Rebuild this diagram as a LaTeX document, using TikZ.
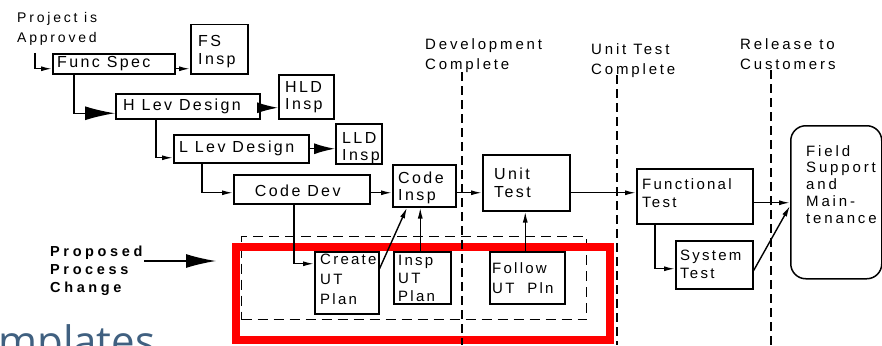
\documentclass[tikz,border=0pt]{standalone}
\usepackage{fontspec}
\setmainfont{Liberation Sans}
\newfontfamily\boxfont[LetterSpace=15]{Liberation Sans}
\newfontfamily\tagfont[LetterSpace=19]{Liberation Sans}
\newfontfamily\notefont[LetterSpace=20]{Liberation Sans}
\newfontfamily\changefont[LetterSpace=25]{Liberation Sans}
\newfontfamily\bannerfont{Open Sans}
\usetikzlibrary{arrows.meta}
\definecolor{banner}{RGB}{64,96,128}

\begin{document}
\begin{tikzpicture}[x=1pt,y=-1pt,
  box/.style={draw, line width=1.5pt, anchor=north west, inner sep=0pt},
  txt/.style={anchor=west, inner sep=0pt, align=left,
    font=\boxfont\fontsize{16}{17}\selectfont},
  smalltxt/.style={anchor=west, inner sep=0pt, align=left,
    font=\boxfont\fontsize{15}{18}\selectfont},
  tag/.style={anchor=base west, inner sep=0pt, align=left,
    font=\tagfont\fontsize{15}{20}\selectfont},
  conn/.style={line width=1.4pt, -{Latex[length=11pt,width=5pt]}},
  midtip/.style={line width=1.4pt, -{Latex[length=21pt,width=11pt]}},
  bigtip/.style={line width=1.4pt, -{Latex[length=30pt,width=14pt]}},
  milestone/.style={line width=1.6pt, dash pattern=on 9pt off 5pt},
  region/.style={draw, line width=1.4pt, dash pattern=on 10pt off 6pt,
    anchor=north west, inner sep=0pt},
  highlight/.style={draw=red, line width=8pt, anchor=north west, inner sep=0pt}]

\useasboundingbox (0,0) rectangle (882,345);
\clip (0,0) rectangle (882,345);

% proposed process change: dashed region and red highlight
\node[region, minimum width=345pt, minimum height=83pt] (region) at (241,236) {};
\node[highlight, minimum width=374pt, minimum height=93pt] (change) at (232,243) {};

% milestone lines
\coordinate (dev-top) at (462,72);   \coordinate (dev-bot) at (462,345);
\coordinate (ut-top)  at (617,75);   \coordinate (ut-bot)  at (617,345);
\coordinate (rel-top) at (771,70);   \coordinate (rel-bot) at (771,345);
\draw[milestone] (dev-top) -- (dev-bot);
\draw[milestone] (ut-top) -- (ut-bot);
\draw[milestone] (rel-top) -- (rel-bot);

% milestone labels (anchored on the baseline of their last line)
\node[tag, font=\notefont\fontsize{14}{20}\selectfont] (approved) at (17,42.7) {Project is\\Approved};
\node[tag] (devdone) at (425,69) {Development\\Complete};
\node[tag] (utdone) at (591,74.5) {Unit Test\\Complete};
\node[tag] (release) at (740,69) {Release to\\Customers};

% process boxes
\node[box, minimum width=122pt, minimum height=20pt] (fspec) at (52,53) {};
\node[txt] (fspec-t) at ([xshift=5pt]fspec.west) {Func Spec};

\node[box, minimum width=57pt, minimum height=49pt] (fsi) at (190,24) {};
\node[txt, font=\boxfont\fontsize{16}{18}\selectfont] (fsi-t) at ([xshift=8pt,yshift=-2pt]fsi.west) {FS\\Insp};

\node[box, minimum width=144pt, minimum height=25pt] (hl) at (115,93) {};
\node[txt] (hl-t) at ([xshift=8pt]hl.west) {H Lev Design};

\node[box, minimum width=55pt, minimum height=44pt] (hli) at (278,74) {};
\node[txt] (hli-t) at ([xshift=7pt]hli.west) {HLD\\Insp};

\node[box, minimum width=135pt, minimum height=28pt] (ll) at (173,134) {};
\node[txt] (ll-t) at ([xshift=6pt]ll.west) {L Lev Design};

\node[box, minimum width=46pt, minimum height=40pt] (lli) at (335,123) {};
\node[txt] (lli-t) at ([xshift=7pt,yshift=-4pt]lli.west) {LLD\\Insp};

\node[box, minimum width=136pt, minimum height=29pt] (cd) at (233,174) {};
\node[txt, anchor=center] (cd-t) at ([xshift=-4pt,yshift=-2pt]cd.center) {Code Dev};

\node[box, minimum width=63pt, minimum height=42pt] (ci) at (392,164) {};
\node[txt] (ci-t) at ([xshift=6pt,yshift=-2pt]ci.west) {Code\\Insp};

\node[box, minimum width=87pt, minimum height=56pt] (ut) at (482,154) {};
\node[txt, font=\boxfont\fontsize{16}{18}\selectfont] (ut-t) at ([xshift=12pt]ut.west) {Unit\\Test};

\node[box, minimum width=116pt, minimum height=55pt] (ft) at (636,168) {};
\node[smalltxt] (ft-t) at ([xshift=6pt,yshift=3pt]ft.west) {Functional\\Test};

\node[box, minimum width=77pt, minimum height=48pt] (st) at (675,240) {};
\node[smalltxt] (st-t) at ([xshift=5pt]st.west) {System\\Test};

\node[box, rounded corners=15pt, minimum width=91pt, minimum height=153pt] (field) at (790,125) {};
\node[tag, font=\tagfont\fontsize{15}{16.7}\selectfont] (field-t) at (806,223) {Field\\Support\\and\\Main-\\tenance};

% proposed activities
\node[box, minimum width=64pt, minimum height=62pt] (cr) at (314,251) {};
\node[smalltxt, font=\boxfont\fontsize{15}{20}\selectfont] (cr-t) at ([xshift=6pt,yshift=3pt]cr.west) {Create\\UT\\Plan};

\node[box, minimum width=57pt, minimum height=52pt] (iu) at (393,251) {};
\node[smalltxt] (iu-t) at ([xshift=5pt,yshift=-1pt]iu.west) {Insp\\UT\\Plan};

\node[box, minimum width=75pt, minimum height=52pt] (fu) at (489,251) {};
\node[smalltxt, font=\boxfont\fontsize{15}{20}\selectfont] (fu-t) at ([xshift=3pt]fu.west) {Follow\\UT~~Pln};

\node[tag, font=\changefont\bfseries\fontsize{14.5}{18}\selectfont] (prop) at (50,292) {Proposed\\Process\\Change};

% banner text at the lower edge
\node[anchor=base west, inner sep=0pt, text=banner, font=\bannerfont\fontsize{42}{42}\selectfont] (banner) at (-2,356) {mplates};

% connectors
\coordinate (entry) at (35,53);
\coordinate (fs-in) at ([yshift=-5pt]fspec.west);
\draw[conn] (entry) |- (fs-in);

\coordinate (fs-out) at ([yshift=-5pt]fspec.east);
\draw[conn] (fs-out) -- (fs-out -| fsi.west);

\coordinate (fs-down) at ([xshift=22pt]fspec.south west);
\coordinate (hl-in) at ([yshift=-7pt]hl.west);
\draw[bigtip] (fs-down) |- (hl-in);

\coordinate (hl-out) at ([yshift=-1.5pt]hl.east);
\draw[midtip] (hl-out) -- (hl-out -| hli.west);

\coordinate (hl-down) at ([xshift=41pt]hl.south west);
\coordinate (ll-in) at ([yshift=-9pt]ll.west);
\draw[conn] (hl-down) |- (ll-in);

\draw[midtip] (ll.east) -- (ll.east -| lli.west);

\coordinate (ll-down) at ([xshift=29pt]ll.south west);
\coordinate (cd-in) at ([yshift=-3.5pt]cd.west);
\draw[conn] (ll-down) |- (cd-in);

\coordinate (cd-out) at ([yshift=-3.5pt]cd.east);
\draw[conn] (cd-out) -- (cd-out -| ci.west);

\coordinate (ci-out) at ([yshift=-7pt]ci.east);
\draw[conn] (ci-out) -- (ci-out -| ut.west);

\coordinate (ut-out) at ([yshift=-10pt]ut.east);
\draw[conn] (ut-out) -- (ut-out -| ft.west);

\coordinate (ft-out) at ([yshift=-6.5pt]ft.east);
\draw[conn] (ft-out) -- (ft-out -| field.west);

\coordinate (ft-down) at ([xshift=19pt]ft.south west);
\coordinate (st-in) at ([yshift=-4pt]st.west);
\draw[conn] (ft-down) |- (st-in);

\coordinate (st-out) at ([yshift=-6pt]st.east);
\coordinate (field-in) at ([yshift=-3.5pt]field.west);
\draw[conn] (st-out) -- (field-in);

\coordinate (cd-down) at ([xshift=61pt]cd.south west);
\coordinate (cr-in) at ([yshift=19pt]cr.west);
\draw[conn] (cd-down) |- (cr-in);

\coordinate (cr-out) at ([yshift=14pt]cr.east);
\coordinate (ci-in) at ([xshift=15pt]ci.south west);
\draw[conn] (cr-out) -- (ci-in);

\coordinate (iu-out) at ([xshift=-2pt]iu.north);
\draw[conn] (iu-out) -- (iu-out |- ci.south);

\coordinate (fu-out) at ([xshift=-2pt]fu.north);
\draw[conn] (fu-out) -- (fu-out |- ut.south);

\coordinate (prop-start) at (144,261);
\coordinate (prop-tip) at (216,261);
\draw[bigtip] (prop-start) -- (prop-tip);

\end{tikzpicture}
\end{document}
